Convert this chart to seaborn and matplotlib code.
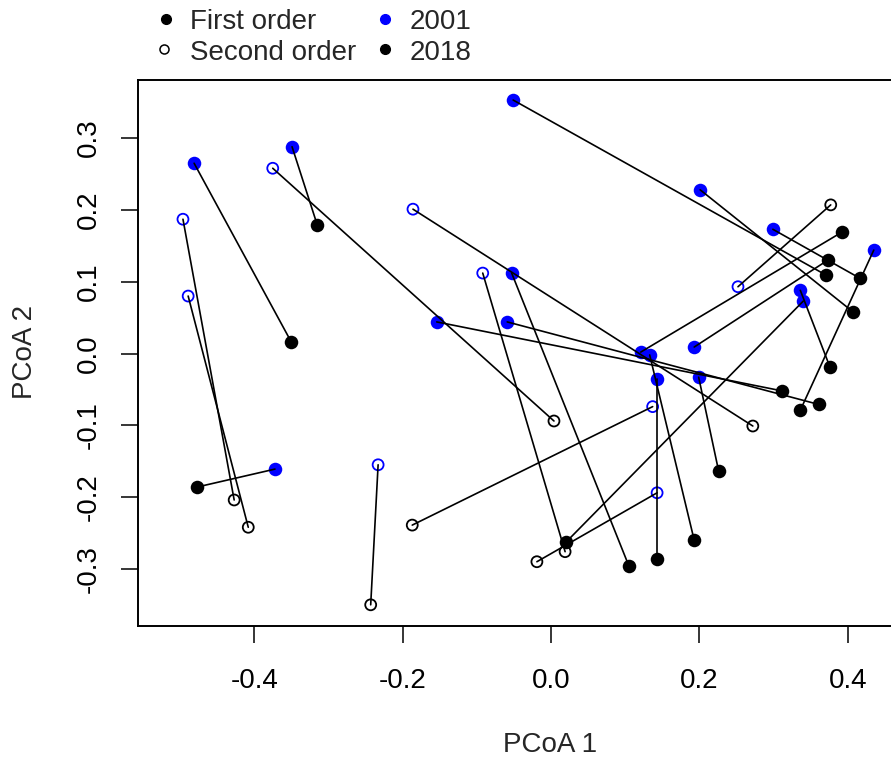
import numpy as np
import pandas as pd
import matplotlib
matplotlib.use("Agg")
import matplotlib.pyplot as plt
from matplotlib.lines import Line2D
import seaborn as sns

# ---- data ----
# First order: 2001 and 2018 coordinates of each sample
first_x2001 = [-0.481, -0.349, -0.372, -0.051, 0.201, 0.299, 0.435, 0.336, 0.340,
               0.193, 0.121, 0.133, 0.143, 0.199, -0.053, -0.154, -0.059]
first_y2001 = [0.265, 0.288, -0.161, 0.353, 0.228, 0.173, 0.144, 0.088, 0.073,
               0.009, 0.002, -0.002, -0.036, -0.033, 0.112, 0.044, 0.044]
first_x2018 = [-0.350, -0.315, -0.477, 0.371, 0.407, 0.416, 0.336, 0.376, 0.020,
               0.373, 0.392, 0.193, 0.143, 0.226, 0.105, 0.311, 0.361]
first_y2018 = [0.016, 0.179, -0.186, 0.109, 0.058, 0.105, -0.079, -0.019, -0.263,
               0.130, 0.169, -0.260, -0.286, -0.164, -0.296, -0.052, -0.071]

# Second order
second_x2001 = [-0.496, -0.489, -0.375, -0.186, -0.092, 0.137, 0.143, 0.252, -0.233]
second_y2001 = [0.187, 0.080, 0.258, 0.201, 0.112, -0.074, -0.194, 0.093, -0.155]
second_x2018 = [-0.427, -0.408, 0.004, 0.272, 0.019, -0.187, -0.019, 0.377, -0.243]
second_y2018 = [-0.204, -0.242, -0.094, -0.101, -0.276, -0.239, -0.290, 0.207, -0.350]

x_ticks = [-0.4, -0.2, 0.0, 0.2, 0.4]
y_ticks = [-0.3, -0.2, -0.1, 0.0, 0.1, 0.2, 0.3]
x_tick_labels = ["-0.4", "-0.2", "0.0", "0.2", "0.4"]
y_tick_labels = ["-0.3", "-0.2", "-0.1", "0.0", "0.1", "0.2", "0.3"]

legend_order = ["First order", "Second order"]
legend_year = ["2001", "2018"]
year_colors = {"2001": "#0000FF", "2018": "#000000"}

# ---- long table ----
rows = []
pid = 0
for order, xs1, ys1, xs2, ys2 in [
    ("First order", first_x2001, first_y2001, first_x2018, first_y2018),
    ("Second order", second_x2001, second_y2001, second_x2018, second_y2018),
]:
    for a, b, c, d in zip(xs1, ys1, xs2, ys2):
        rows.append(dict(pair=pid, order=order, year="2001", x=a, y=b))
        rows.append(dict(pair=pid, order=order, year="2018", x=c, y=d))
        pid += 1
df = pd.DataFrame(rows)

sns.set_theme(style="white")
plt.rcParams["font.family"] = ["Liberation Sans", "DejaVu Sans"]
plt.rcParams["axes.unicode_minus"] = False

FS = 20
W, H = 891, 761
fig = plt.figure(figsize=(W / 100, H / 100), dpi=100)
L, R, T, B = 138, 962, 80, 626
ax = fig.add_axes([L / W, 1 - B / H, (R - L) / W, (B - T) / H])

x0, sx = 551.0, 742.0
y0, sy = 353.5, 718.0
ax.set_xlim((L - x0) / sx, (R - x0) / sx)
ax.set_ylim((y0 - B) / sy, (y0 - T) / sy)

# points
for order in legend_order:
    for year in legend_year:
        sub = df[(df.order == order) & (df.year == year)]
        col = year_colors[year]
        if order == "First order":
            sns.scatterplot(data=sub, x="x", y="y", ax=ax, color=col, s=95,
                            linewidth=0, marker="o", legend=False, zorder=2)
        else:
            sns.scatterplot(data=sub, x="x", y="y", ax=ax, s=62, marker="o",
                            facecolor="none", edgecolor=col, linewidth=1.3,
                            legend=False, zorder=2)

# segments (drawn over points as in the original)
sns.lineplot(data=df, x="x", y="y", units="pair", estimator=None, sort=False,
             color="black", lw=1.2, ax=ax, legend=False, zorder=3)

ax.set_xticks(x_ticks)
ax.set_xticklabels(x_tick_labels)
ax.set_yticks(y_ticks)
ax.set_yticklabels(y_tick_labels, rotation=90, va="center")
ax.tick_params(axis="both", which="both", direction="out", length=12,
               width=1.1, color="black", labelsize=FS, labelcolor="black")
ax.tick_params(axis="x", pad=18, bottom=True)
ax.tick_params(axis="y", pad=14, left=True)
for s in ax.spines.values():
    s.set_color("black")
    s.set_linewidth(1.4)
ax.set_xlabel("")
ax.set_ylabel("")
ax.grid(False)

fig.text(550 / W, 1 - 745 / H, "PCoA 1", ha="center", va="center", fontsize=FS)
fig.text(25 / W, 1 - 352 / H, "PCoA 2", ha="center", va="center", fontsize=FS,
         rotation=90)

# legend (two columns above the plot)
leg_rows_y = [19, 49]
text_rows_y = [22, 53]
for i, lab in enumerate(legend_order):
    yy = 1 - leg_rows_y[i] / H
    if i == 0:
        fig.add_artist(Line2D([166 / W], [yy], marker="o", ms=7, color="black",
                              lw=0, transform=fig.transFigure))
    else:
        fig.add_artist(Line2D([164 / W], [yy], marker="o", ms=6.5, mfc="none",
                              mec="black", mew=1.1, lw=0, transform=fig.transFigure))
    fig.text(190 / W, 1 - text_rows_y[i] / H, lab, ha="left", va="center", fontsize=FS)
for i, lab in enumerate(legend_year):
    yy = 1 - leg_rows_y[i] / H
    fig.add_artist(Line2D([385 / W], [yy], marker="o", ms=7, color=year_colors[lab],
                          lw=0, transform=fig.transFigure))
    fig.text(410 / W, 1 - text_rows_y[i] / H, lab, ha="left", va="center", fontsize=FS)

fig.savefig("out.png", dpi=100)
